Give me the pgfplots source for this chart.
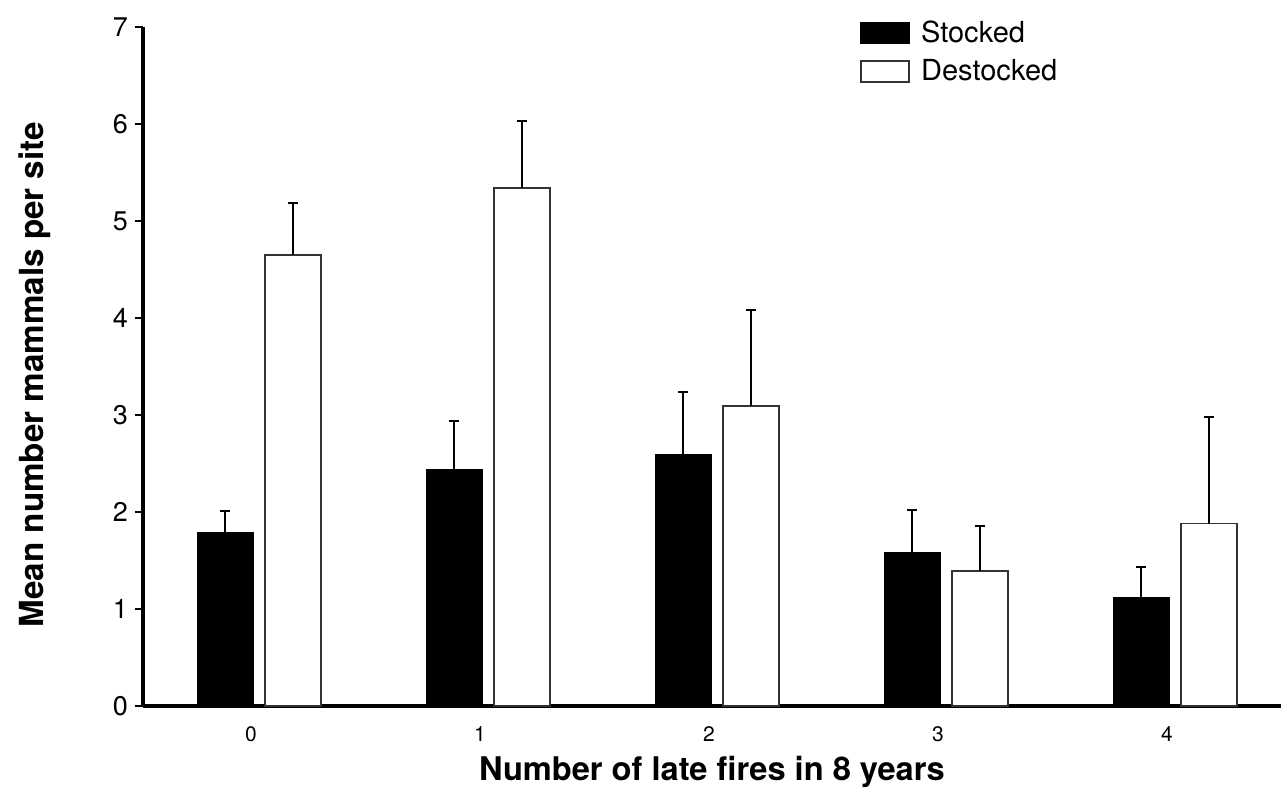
\documentclass[border=0pt]{standalone}
\usepackage{fontspec}
\setmainfont{TeX Gyre Heros}
\usepackage{pgfplots}
\pgfplotsset{compat=1.18}
\begin{document}
\begin{tikzpicture}
\useasboundingbox (-71.5pt,-41.5pt) rectangle (569pt,353pt);
\begin{axis}[
  at={(0,0)}, anchor=south west,
  scale only axis, width=569pt, height=339.5pt,
  xmin=-0.507, xmax=4.463, ymin=0, ymax=7,
  axis x line*=bottom, axis y line*=left,
  axis line style={line width=2pt},
  ybar, bar width=0.2445,
  ytick={0,1,2,3,4,5,6,7},
  xtick={0,1,2,3,4},
  xtick style={draw=none},
  ytick style={line width=0.8pt, black},
  tick align=outside, major tick length=4pt,
  /pgf/number format/assume math mode=true,
  yticklabel style={font=\fontsize{13.5}{13.5}\selectfont},
  xticklabel style={font=\fontsize{10.5}{10.5}\selectfont, xshift=-4pt, yshift=-3pt},
  xlabel={\textbf{Number of late fires in 8 years}},
  ylabel={\textbf{Mean number mammals per site}},
  xlabel style={font=\fontsize{16.3}{16.3}\selectfont, at={(axis description cs:0.5,0)}, anchor=center, yshift=-33pt},
  ylabel style={font=\fontsize{16.6}{16.6}\selectfont, at={(axis description cs:-0.095,0.488)}, anchor=center},
  legend style={draw=none, fill=none, at={(axis description cs:0.630,1.016)}, anchor=north west,
    font=\fontsize{14.5}{14.5}\selectfont, row sep=3pt, inner sep=0pt},
  legend cell align=left,
  legend image code/.code={\path[draw=none, fill=none] (0pt,0pt) -- (28pt,0pt); \draw[#1, line width=0.8pt] (0pt,-5.25pt) rectangle (24pt,5.25pt);},
  error bars/error bar style={line width=0.8pt, black},
  error bars/error mark options={rotate=90, mark size=2.5pt, line width=1pt, black},
  clip=false,
]
\addplot[fill=black, draw=black, line width=0.5pt, bar shift=-0.148,
  error bars/.cd, y dir=plus, y explicit]
  coordinates {(0,1.79) +- (0,0.22) (1,2.44) +- (0,0.50) (2,2.59) +- (0,0.65) (3,1.58) +- (0,0.44) (4,1.12) +- (0,0.31)};
\addplot[fill=white, draw=black!80, line width=0.8pt, bar shift=0.148,
  error bars/.cd, y dir=plus, y explicit]
  coordinates {(0,4.65) +- (0,0.54) (1,5.34) +- (0,0.69) (2,3.09) +- (0,0.99) (3,1.39) +- (0,0.47) (4,1.88) +- (0,1.10)};
\legend{Stocked, Destocked}
\end{axis}
\end{tikzpicture}
\end{document}
